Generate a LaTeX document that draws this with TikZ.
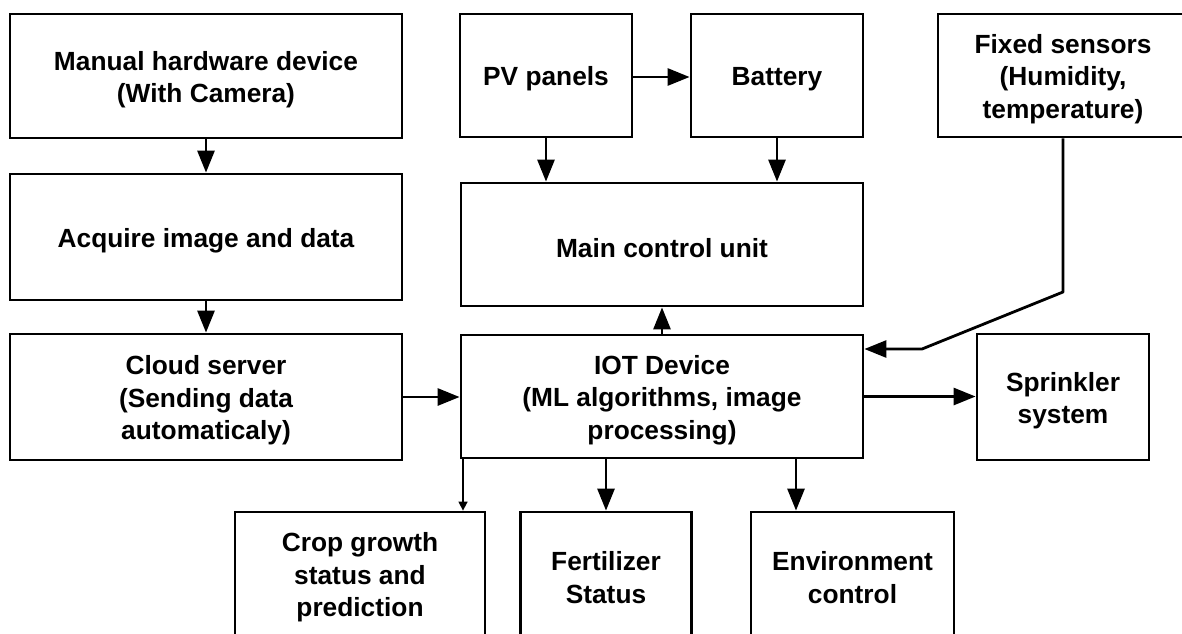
\documentclass[tikz,border=0pt]{standalone}
\usepackage{fontspec}
\setmainfont{Liberation Sans}
\usetikzlibrary{arrows.meta,calc}
\begin{document}
\begin{tikzpicture}[x=1pt,y=-1pt,
  box/.style={draw=black,line width=2.8pt,rectangle,inner sep=0pt},
  txt/.style={align=center,inner sep=0pt,yshift=-3.5pt,
    font=\fontsize{26.3}{32.5}\selectfont\bfseries,text=black},
  arr/.style={line width=2.8pt,-{Triangle[length=22pt,width=17pt]}},
  thinarr/.style={line width=1.5pt,-{Triangle[length=9pt,width=9pt]}}]
\useasboundingbox (0,0) rectangle (1182,633);
\fill[white] (0,0) rectangle (1182,633);
\clip (0,0) rectangle (1182,633);
% nodes
\node[box,minimum width=392pt,minimum height=124pt,label={[txt,name=tman]center:{Manual hardware device\\(With Camera)}}] (man) at (206,76) {};
\node[box,minimum width=392pt,minimum height=126pt,label={[txt,name=tacq]center:{Acquire image and data}}] (acq) at (206,237) {};
\node[box,minimum width=392pt,minimum height=126pt,label={[txt,name=tcloud]center:{Cloud server\\(Sending data\\automaticaly)}}] (cloud) at (206,397) {};
\node[box,minimum width=172pt,minimum height=123pt,label={[txt,name=tpv]center:{PV panels}}] (pv) at (546,75.5) {};
\node[box,minimum width=172pt,minimum height=123pt,label={[txt,name=tbat]center:{Battery}}] (bat) at (777,75.5) {};
\node[box,minimum width=250pt,minimum height=123pt,label={[txt,name=tfix]center:{Fixed sensors\\(Humidity,\\temperature)}}] (fix) at (1063,75.5) {};
\node[box,minimum width=402pt,minimum height=123pt,label={[txt,name=tmain]center:{Main control unit}}] (main) at (662,244.5) {};
\node[box,minimum width=402pt,minimum height=123pt,label={[txt,name=tiot]center:{IOT Device\\(ML algorithms, image\\processing)}}] (iot) at (662,396.5) {};
\node[box,minimum width=172pt,minimum height=126pt,label={[txt,name=tspr]center:{Sprinkler\\system}}] (spr) at (1063,397) {};
\node[box,minimum width=250pt,minimum height=124pt,label={[txt,name=tcrop]center:{Crop growth\\status and\\prediction}}] (crop) at (360,574) {};
\node[box,minimum width=171pt,minimum height=124pt,label={[txt,name=tfert]center:{Fertilizer\\Status}}] (fert) at (606,574) {};
\node[box,minimum width=203pt,minimum height=124pt,label={[txt,name=tenv]center:{Environment\\control}}] (env) at (852.5,574) {};
% helper coordinates
\coordinate (k1) at (1063,292);
\coordinate (k2) at (922,349);
\coordinate (ex) at (796,0);
\coordinate (cx) at (463,0);
\coordinate (py) at (0,77);
% connectors
\draw[arr] (man) -- (acq);
\draw[arr] (acq) -- (cloud);
\draw[arr] (cloud.east) -- (cloud.east -| iot.west);
\draw[arr] (pv.east |- py) -- (bat.west |- py);
\draw[arr] (pv.south) -- (pv.south |- main.north);
\draw[arr] (bat.south) -- (bat.south |- main.north);
\draw[arr] (iot.north) -- (main.south);
\draw[arr] (iot.east) -- (iot.east -| spr.west);
\draw[arr,line join=round] (fix.south) -- (k1) -- (k2) -- (k2 -| iot.east);
\draw[arr] (fert.north |- iot.south) -- (fert.north);
\draw[arr] (ex |- iot.south) -- (ex |- env.north);
\draw[thinarr] (cx |- iot.south) -- (cx |- crop.north);
\end{tikzpicture}
\end{document}
